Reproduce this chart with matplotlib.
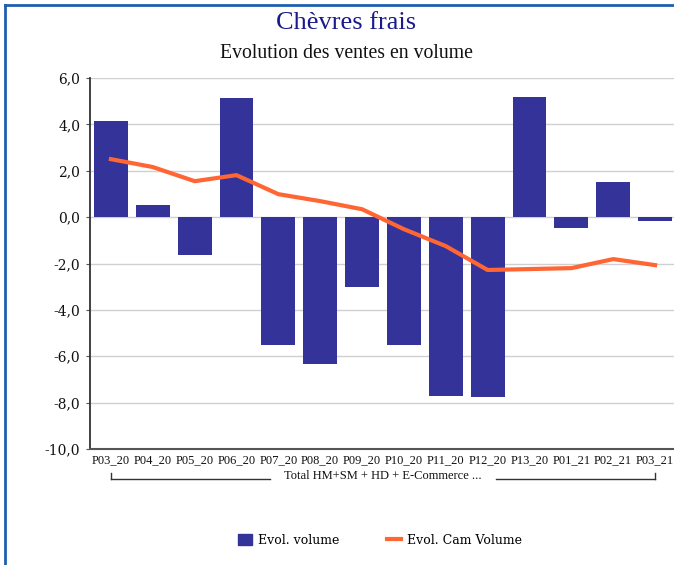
import matplotlib
matplotlib.use("Agg")
import matplotlib.pyplot as plt
from matplotlib.lines import Line2D
from matplotlib.transforms import blended_transform_factory
import numpy as np

categories = ["P03_20", "P04_20", "P05_20", "P06_20", "P07_20", "P08_20", "P09_20",
              "P10_20", "P11_20", "P12_20", "P13_20", "P01_21", "P02_21", "P03_21"]
evol_volume = [4.15, 0.52, -1.64, 5.13, -5.52, -6.34, -3.02, -5.52, -7.72, -7.76,
               5.17, -0.47, 1.51, -0.17]
evol_cam_volume = [2.50, 2.16, 1.55, 1.81, 0.99, 0.69, 0.34, -0.52, -1.25, -2.28,
                   -2.24, -2.20, -1.81, -2.07]
yticks = [6, 4, 2, 0, -2, -4, -6, -8, -10]
group_label = "Total HM+SM + HD + E-Commerce ..."

W, H = 674, 565
fig = plt.figure(figsize=(W / 100, H / 100), dpi=100)

def fx(px):
    return px / W

def fy(py):
    return 1 - py / H

ax = fig.add_axes([fx(90), fy(449), fx(676) - fx(90), fy(78) - fy(449)])
x = np.arange(len(categories))
bar_color = "#333399"
line_color = "#FF6633"
ax.bar(x, evol_volume, width=0.81, color=bar_color, zorder=2, label="Evol. volume")
ax.plot(x, evol_cam_volume, color=line_color, lw=3, zorder=3, label="Evol. Cam Volume")

ax.set_xlim(-0.5, len(categories) - 0.5)
ax.set_ylim(-10, 6)
ax.set_yticks(yticks)
ax.set_yticklabels([f"{v:.1f}".replace(".", ",") for v in yticks],
                   family="DejaVu Serif", fontsize=10, color="#111111")
ax.set_xticks(x)
ax.set_xticklabels(categories, family="Liberation Serif", fontsize=9, color="#111111")
ax.tick_params(axis="x", length=0, pad=4)
ax.tick_params(axis="y", length=3, color="#555555", pad=4)
ax.grid(axis="y", color="#d0d0d0", lw=1, zorder=0)
ax.set_axisbelow(True)
for s in ["top", "right"]:
    ax.spines[s].set_visible(False)
ax.spines["left"].set_color("#333333")
ax.spines["bottom"].set_color("#555555")
ax.spines["left"].set_linewidth(1.3)
ax.spines["bottom"].set_linewidth(1.5)

# category group bracket
tr = blended_transform_factory(ax.transData, fig.transFigure)
x0, x1 = 0, len(categories) - 1
xm = (x0 + x1) / 2
y_top, y_bot = fy(473), fy(479)
gap = 2.7
for seg in [(x0, xm - gap), (xm + gap, x1)]:
    fig.add_artist(Line2D(seg, [y_bot, y_bot], transform=tr, color="#333333", lw=1))
fig.add_artist(Line2D([x0, x0], [y_top, y_bot], transform=tr, color="#333333", lw=1))
fig.add_artist(Line2D([x1, x1], [y_top, y_bot], transform=tr, color="#333333", lw=1))
fig.text(xm, fy(476), group_label, transform=tr, ha="center", va="center",
         family="Liberation Serif", fontsize=9, color="#111111")

# titles
fig.text(fx(346), fy(23), "Chèvres frais", ha="center", va="center",
         family="Liberation Serif", fontsize=19, color="#1a1a8c")
fig.text(fx(346), fy(53), "Evolution des ventes en volume", ha="center", va="center",
         family="Liberation Serif", fontsize=14.2, color="#111111")

# legend
handles = [plt.Rectangle((0, 0), 1, 1, color=bar_color),
           Line2D([0], [0], color=line_color, lw=3)]
leg = fig.legend(handles, ["Evol. volume", "Evol. Cam Volume"], loc="center",
                 bbox_to_anchor=(fx(380), fy(540)), ncol=2, frameon=False,
                 prop={"family": "DejaVu Serif", "size": 9}, handlelength=1.1,
                 handleheight=1.0, columnspacing=3.8, handletextpad=0.5)

# frame border
fig.add_artist(Line2D([fx(5), fx(5)], [fy(5), 0], transform=fig.transFigure,
                      color="#1f5fb0", lw=2))
fig.add_artist(Line2D([fx(5), 1], [fy(5), fy(5)], transform=fig.transFigure,
                      color="#1f5fb0", lw=2))

fig.savefig("out.png", dpi=100)
